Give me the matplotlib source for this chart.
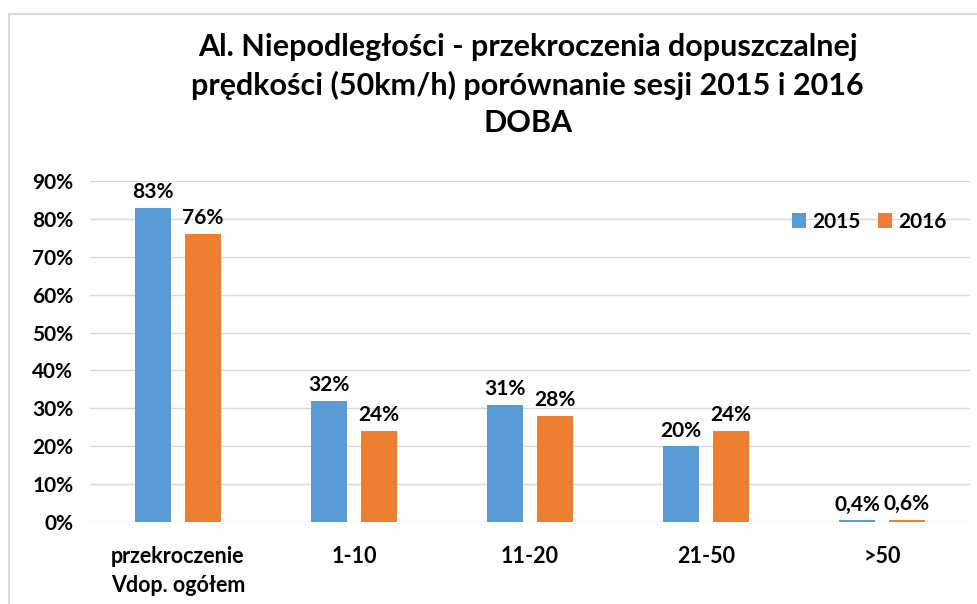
import matplotlib
matplotlib.use('Agg')
import matplotlib.pyplot as plt
import numpy as np
from matplotlib.patches import Rectangle

plt.rcParams['font.family'] = ['Lato', 'DejaVu Sans']

categories = ['przekroczenie\nVdop. ogółem', '1-10', '11-20', '21-50', '>50']
v2015 = [0.83, 0.32, 0.31, 0.20, 0.004]
v2016 = [0.76, 0.24, 0.28, 0.24, 0.006]
labels2015 = ['83%', '32%', '31%', '20%', '0,4%']
labels2016 = ['76%', '24%', '28%', '24%', '0,6%']
yticks = np.arange(0, 0.91, 0.1)

blue = '#5B9BD5'
orange = '#ED7D31'

fig = plt.figure(figsize=(9.77, 6.04), dpi=100)
ax = fig.add_axes([90 / 977, 1 - 522 / 604, 880 / 977, (522 - 181) / 604])

# chart frame
fig.patches.append(Rectangle((9 / 977, -0.1), 1.2, 1 - 14 / 604 + 0.1,
                             transform=fig.transFigure, fill=False,
                             edgecolor='#D9D9D9', linewidth=1.5))

x = np.arange(len(categories))
w = 0.21
off = 0.142
b1 = ax.bar(x - off, v2015, w, color=blue, label='2015', zorder=3)
b2 = ax.bar(x + off, v2016, w, color=orange, label='2016', zorder=3)

for bars, labs in ((b1, labels2015), (b2, labels2016)):
    for r, t in zip(bars, labs):
        ax.text(r.get_x() + r.get_width() / 2, r.get_height() + 0.015, t,
                ha='center', va='bottom', fontsize=15, fontweight='bold')

ax.set_xlim(-0.5, len(categories) - 0.5)
ax.set_ylim(0, 0.9)
ax.set_yticks(yticks)
ax.set_yticklabels([f'{int(round(v * 100))}%' for v in yticks],
                   fontsize=15, fontweight='bold')
ax.set_xticks(x)
ax.set_xticklabels(categories, fontsize=15.5, fontweight='bold', linespacing=1.5)
ax.tick_params(length=0, pad=12)
ax.tick_params(axis='x', pad=17)
ax.grid(axis='y', color='#D9D9D9', linewidth=1, zorder=0)
for s in ax.spines.values():
    s.set_visible(False)

ax.legend(loc='upper right', bbox_to_anchor=(0.995, 0.965), ncol=2, frameon=False,
          prop={'size': 15, 'weight': 'bold'}, handlelength=0.7, handleheight=0.7,
          handletextpad=0.3, columnspacing=0.8)

fig.text(0.54, 1 - 85 / 604,
         'Al. Niepodległości - przekroczenia dopuszczalnej\n'
         'prędkości (50km/h) porównanie sesji 2015 i 2016\nDOBA',
         ha='center', va='center', fontsize=22, fontweight='bold',
         linespacing=1.42)

fig.savefig('out.png', dpi=100)
